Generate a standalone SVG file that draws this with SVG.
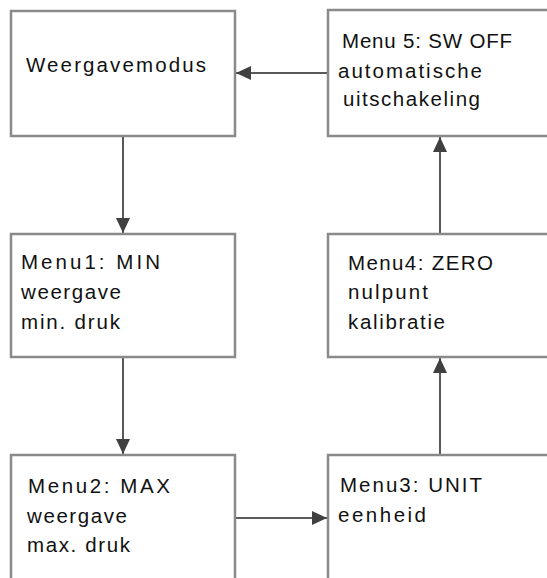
<svg xmlns="http://www.w3.org/2000/svg" width="547" height="578" viewBox="0 0 547 578">
<defs>
<style>
.box{fill:#ffffff;stroke:#8a8a8a;stroke-width:2.5}
.t{font-family:"Liberation Sans",Arial,sans-serif;font-size:20.5px;fill:#111111}
.c{stroke:#595959;stroke-width:2;fill:none;marker-end:url(#ah)}
</style>
<marker id="ah" markerUnits="userSpaceOnUse" markerWidth="16" markerHeight="14" refX="15" refY="7" orient="auto">
<path d="M0,0 L15,7 L0,14 Z" fill="#404040"/>
</marker>
</defs>
<rect width="547" height="578" fill="#ffffff"/>
<g id="connectors">
<line class="c" x1="328" y1="73" x2="236" y2="73"/>
<line class="c" x1="123" y1="136" x2="123" y2="233"/>
<line class="c" x1="123" y1="357" x2="123" y2="454"/>
<line class="c" x1="235" y1="518" x2="327" y2="518"/>
<line class="c" x1="440" y1="455" x2="440" y2="358"/>
<line class="c" x1="440" y1="234" x2="440" y2="137"/>
</g>
<g id="weergavemodus">
<rect class="box" x="11" y="11" width="224" height="125"/>
<text class="t" x="26" y="72" textLength="180" lengthAdjust="spacing">Weergavemodus</text>
</g>
<g id="menu5">
<rect class="box" x="328" y="10" width="230" height="126"/>
<text class="t" x="342" y="48" textLength="170" lengthAdjust="spacing">Menu 5: SW OFF</text>
<text class="t" x="338" y="78" textLength="144" lengthAdjust="spacing">automatische</text>
<text class="t" x="343" y="106" textLength="137" lengthAdjust="spacing">uitschakeling</text>
</g>
<g id="menu1">
<rect class="box" x="11" y="234" width="224" height="123"/>
<text class="t" x="21" y="269" textLength="139" lengthAdjust="spacing">Menu1: MIN</text>
<text class="t" x="21" y="299" textLength="100" lengthAdjust="spacing">weergave</text>
<text class="t" x="21" y="329" textLength="99" lengthAdjust="spacing">min. druk</text>
</g>
<g id="menu4">
<rect class="box" x="328" y="234" width="230" height="123"/>
<text class="t" x="348" y="270" textLength="145" lengthAdjust="spacing">Menu4: ZERO</text>
<text class="t" x="348" y="299" textLength="80" lengthAdjust="spacing">nulpunt</text>
<text class="t" x="348" y="329" textLength="97" lengthAdjust="spacing">kalibratie</text>
</g>
<g id="menu2">
<rect class="box" x="11" y="455" width="224" height="140"/>
<text class="t" x="28" y="493" textLength="142" lengthAdjust="spacing">Menu2: MAX</text>
<text class="t" x="27" y="523" textLength="100" lengthAdjust="spacing">weergave</text>
<text class="t" x="27" y="552" textLength="103" lengthAdjust="spacing">max. druk</text>
</g>
<g id="menu3">
<rect class="box" x="328" y="455" width="230" height="140"/>
<text class="t" x="340" y="492" textLength="142" lengthAdjust="spacing">Menu3: UNIT</text>
<text class="t" x="338" y="522" textLength="88" lengthAdjust="spacing">eenheid</text>
</g>
</svg>
